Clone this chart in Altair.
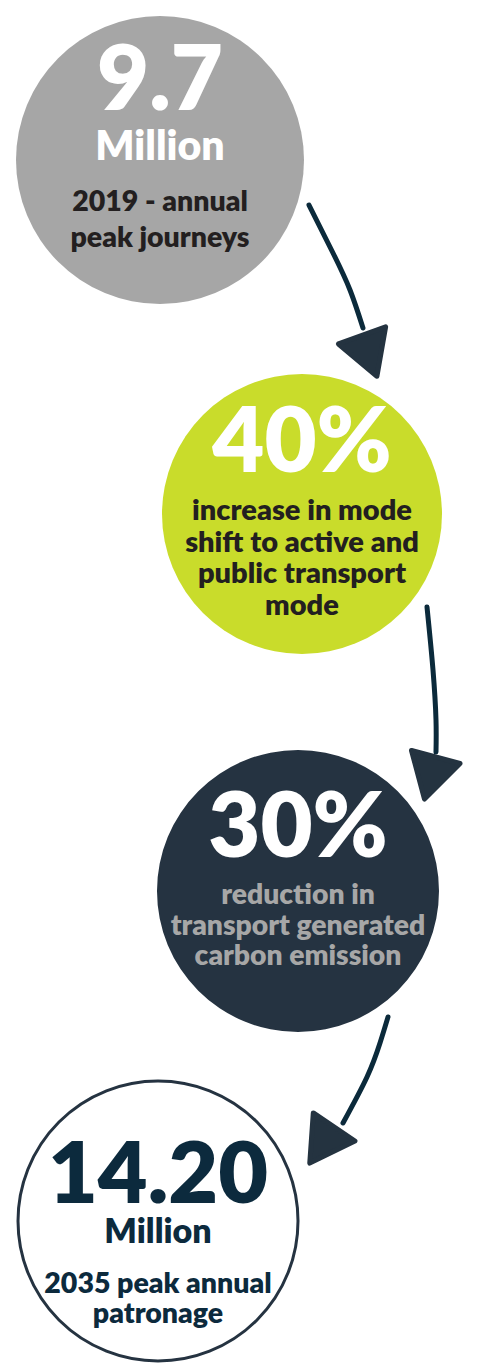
import altair as alt
import pandas as pd

# ---- content -------------------------------------------------------------
stage = ["2019", "mode shift", "emissions", "2035"]
circle_fill = ["#a6a6a6", "#c9dc2b", "#253341", "#ffffff"]
circle_stroke = ["#a6a6a6", "#c9dc2b", "#253341", "#253341"]
circle_stroke_w = [0, 0, 0, 3]

# layout of the four stages (chart units = pixels)
circle_cx = [160, 302, 298, 158]
circle_cy = [160, 514, 891, 1221]
circle_d = [288, 280, 282, 280]

text_lines = ["9.7", "Million", "2019 - annual", "peak journeys",
              "40%", "increase in mode", "shift to active and", "public transport", "mode",
              "30%", "reduction in", "transport generated", "carbon emission",
              "14.20", "Million", "2035 peak annual", "patronage"]
text_x = [160, 160, 160, 160,
          302, 302, 302, 302, 302,
          298, 298, 298, 298,
          158, 158, 158, 158]
text_y = [110, 160, 211, 247,
          472, 520, 552, 583, 615,
          857, 904, 935, 965,
          1203, 1243, 1293, 1323]
text_size = [90, 41, 28.5, 28.5,
             90, 29, 29, 29, 29,
             90, 28.3, 28.3, 28.3,
             86, 34, 28.5, 28.5]
text_color = ["#ffffff", "#ffffff", "#231f20", "#231f20",
              "#ffffff", "#231f20", "#231f20", "#231f20", "#231f20",
              "#ffffff", "#a7a7a7", "#a7a7a7", "#a7a7a7",
              "#0c2a3d", "#0c2a3d", "#0c2a3d", "#0c2a3d"]

# connecting arrows (shaft points) and heads
arrow_id = [1, 1, 1, 1, 2, 2, 2, 2, 3, 3, 3, 3]
arrow_x = [309, 333, 350, 363, 427, 433, 436, 436, 388, 380, 367, 343]
arrow_y = [205, 253, 290, 328, 607, 670, 720, 752, 1017, 1043, 1077, 1123]
arrow_order = [0, 1, 2, 3, 0, 1, 2, 3, 0, 1, 2, 3]

head_x = [367, 432, 326]
head_y = [349, 771, 1139]
head_angle = [160, 195, 214]

# ---- tables --------------------------------------------------------------
circles = pd.DataFrame({"stage": stage, "x": circle_cx, "y": circle_cy,
                        "size": [d * d for d in circle_d], "fill": circle_fill,
                        "stroke": circle_stroke, "sw": circle_stroke_w})
texts = pd.DataFrame({"text": text_lines, "x": text_x, "y": text_y,
                      "size": text_size, "color": text_color})
arrows = pd.DataFrame({"id": arrow_id, "x": arrow_x, "y": arrow_y, "o": arrow_order})
heads = pd.DataFrame({"x": head_x, "y": head_y, "angle": head_angle})

X = alt.X("x:Q", scale=alt.Scale(domain=[8, 469], nice=False, zero=False), axis=None)
Y = alt.Y("y:Q", scale=alt.Scale(domain=[1363, 8], nice=False, zero=False), axis=None)

circle_layer = alt.Chart(circles).mark_circle(opacity=1).encode(
    x=X, y=Y,
    size=alt.Size("size:Q", scale=None),
    fill=alt.Fill("fill:N", scale=None),
    stroke=alt.Stroke("stroke:N", scale=None),
    strokeWidth=alt.StrokeWidth("sw:Q", scale=None),
)

arrow_layer = alt.Chart(arrows).mark_line(
    color="#0b2a3b", strokeWidth=5, strokeCap="round", interpolate="natural"
).encode(x=X, y=Y, detail="id:N", order="o:Q")

head_layer = alt.Chart(heads).mark_point(
    shape="M 0 -1 L 0.866 0.5 L -0.866 0.5 Z",
    filled=True, fill="#243340", stroke="#243340", strokeWidth=5,
    strokeJoin="round", opacity=1, size=3364,
).encode(x=X, y=Y, angle=alt.Angle("angle:Q", scale=None))

text_layer = alt.Chart(texts).mark_text(
    font="Lato", fontWeight=800, baseline="alphabetic", align="center"
).encode(
    x=X, y=Y, text="text:N",
    size=alt.Size("size:Q", scale=None),
    color=alt.Color("color:N", scale=None),
)

chart = alt.layer(circle_layer, arrow_layer, head_layer, text_layer).properties(
    width=461, height=1355, padding=0, autosize="none",
).configure_view(stroke=None)

chart.save("out.html", embed_options={"renderer": "svg", "actions": False})
